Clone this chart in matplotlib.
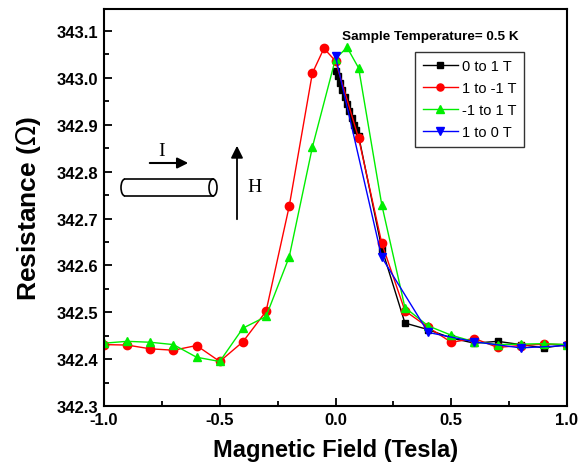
import numpy as np
import matplotlib
matplotlib.use("Agg")
import matplotlib.pyplot as plt
from matplotlib.patches import Ellipse, Arc, FancyArrowPatch
from matplotlib.ticker import MultipleLocator, FormatStrFormatter

plt.rcParams['font.family'] = ['Liberation Sans', 'DejaVu Sans']

# 0 to 1 T (black squares)
x_up0 = [0.0, 0.01, 0.02, 0.03, 0.04, 0.05, 0.06, 0.07, 0.08, 0.09, 0.10,
         0.2, 0.3, 0.4, 0.5, 0.6, 0.7, 0.8, 0.9, 1.0]
r_up0 = [343.015, 343.005, 342.99, 342.975, 342.96, 342.945, 342.93, 342.915,
         342.90, 342.888, 342.876, 342.636, 342.477, 342.463, 342.445,
         342.434, 342.438, 342.431, 342.424, 342.431]

# 1 to -1 T (red circles)
x_down = [1.0, 0.9, 0.8, 0.7, 0.6, 0.5, 0.4, 0.3, 0.2, 0.1, 0.0, -0.05,
          -0.1, -0.2, -0.3, -0.4, -0.5, -0.6, -0.7, -0.8, -0.9, -1.0]
r_down = [342.431, 342.432, 342.429, 342.425, 342.444, 342.436, 342.468,
          342.503, 342.647, 342.871, 343.036, 343.063, 343.01, 342.726,
          342.502, 342.437, 342.395, 342.429, 342.419, 342.422, 342.430,
          342.431]

# -1 to 1 T (green triangles)
x_up = [-1.0, -0.9, -0.8, -0.7, -0.6, -0.5, -0.4, -0.3, -0.2, -0.1, 0.0,
        0.05, 0.1, 0.2, 0.3, 0.4, 0.5, 0.6, 0.7, 0.8, 0.9, 1.0]
r_up = [342.434, 342.438, 342.436, 342.431, 342.404, 342.395, 342.466,
        342.491, 342.618, 342.852, 343.041, 343.065, 343.021, 342.729,
        342.510, 342.471, 342.451, 342.437, 342.431, 342.432, 342.433,
        342.431]

# 1 to 0 T (blue down triangles)
x_back = [1.0, 0.8, 0.6, 0.4, 0.2, 0.0]
r_back = [342.429, 342.424, 342.437, 342.457, 342.617, 343.046]

fig = plt.figure(figsize=(5.79, 4.77), dpi=100)
ax = fig.add_axes([104 / 579, 1 - 407 / 477, 463 / 579, 397 / 477])

ax.plot(x_up0, r_up0, '-s', color='black', ms=5, lw=1, label='0 to 1 T')
ax.plot(x_down, r_down, '-o', color='red', ms=6, lw=1, label='1 to -1 T')
ax.plot(x_up, r_up, '-^', color='#00ee00', ms=6, lw=1, label='-1 to 1 T')
ax.plot(x_back, r_back, '-v', color='blue', ms=6, lw=1, label='1 to 0 T')

ax.set_xlim(-1.0, 1.0)
ax.set_ylim(342.3, 343.147)
ax.xaxis.set_major_locator(MultipleLocator(0.5))
ax.xaxis.set_minor_locator(MultipleLocator(0.25))
ax.yaxis.set_major_locator(MultipleLocator(0.1))
ax.yaxis.set_minor_locator(MultipleLocator(0.05))
ax.xaxis.set_major_formatter(FormatStrFormatter('%.1f'))
ax.yaxis.set_major_formatter(FormatStrFormatter('%.1f'))
ax.tick_params(direction='in', which='major', length=6, width=1.3, pad=4,
               labelsize=12)
ax.tick_params(direction='in', which='minor', length=3.5, width=1.3)
for lab in ax.get_xticklabels() + ax.get_yticklabels():
    lab.set_fontweight('bold')
for s in ax.spines.values():
    s.set_linewidth(1.5)

ax.set_xlabel('Magnetic Field (Tesla)', fontsize=17, fontweight='bold',
              labelpad=8)
ax.set_ylabel('Resistance ($\\Omega$)', fontsize=19, fontweight='bold',
              labelpad=10)

ax.text(0.03, 343.09, 'Sample Temperature= 0.5 K', fontsize=9.7,
        fontweight='bold', va='center', ha='left')

leg = ax.legend(loc='upper right', bbox_to_anchor=(0.907, 0.892),
                fontsize=10.5, frameon=True, fancybox=False, edgecolor='black',
                handlelength=2.4, handletextpad=0.3, borderpad=0.5,
                labelspacing=0.55, borderaxespad=0, markerscale=0.85)
leg.get_frame().set_linewidth(1.0)


def fx(px):
    return px / 579


def fy(py):
    return 1 - py / 477


# current arrow and label
fig.add_artist(FancyArrowPatch(
    (fx(147), fy(164)), (fx(191), fy(164)), transform=fig.transFigure,
    arrowstyle='-|>', mutation_scale=16, color='black', lw=1.5))
fig.text(fx(162), fy(152), 'I', family='Liberation Serif', fontsize=14,
         ha='center', va='center')

# wire (cylinder)
h = 17 / 477
w = 8 / 579
yc = fy(188.5)
fig.add_artist(Ellipse((fx(213), yc), w, h, transform=fig.transFigure,
                       fill=False, lw=1.2, color='black'))
fig.add_artist(Arc((fx(125), yc), w, h, theta1=90, theta2=270,
                   transform=fig.transFigure, lw=1.2, color='black'))
fig.add_artist(plt.Line2D([fx(125), fx(213)], [fy(180), fy(180)],
                          transform=fig.transFigure, lw=1.2, color='black'))
fig.add_artist(plt.Line2D([fx(125), fx(213)], [fy(197), fy(197)],
                          transform=fig.transFigure, lw=1.2, color='black'))

# field arrow and label
fig.add_artist(FancyArrowPatch(
    (fx(237), fy(223)), (fx(237), fy(144)), transform=fig.transFigure,
    arrowstyle='-|>', mutation_scale=18, color='black', lw=1.3))
fig.text(fx(255), fy(188), 'H', family='Liberation Serif', fontsize=14,
         ha='center', va='center')

fig.savefig('out.png', dpi=100)
